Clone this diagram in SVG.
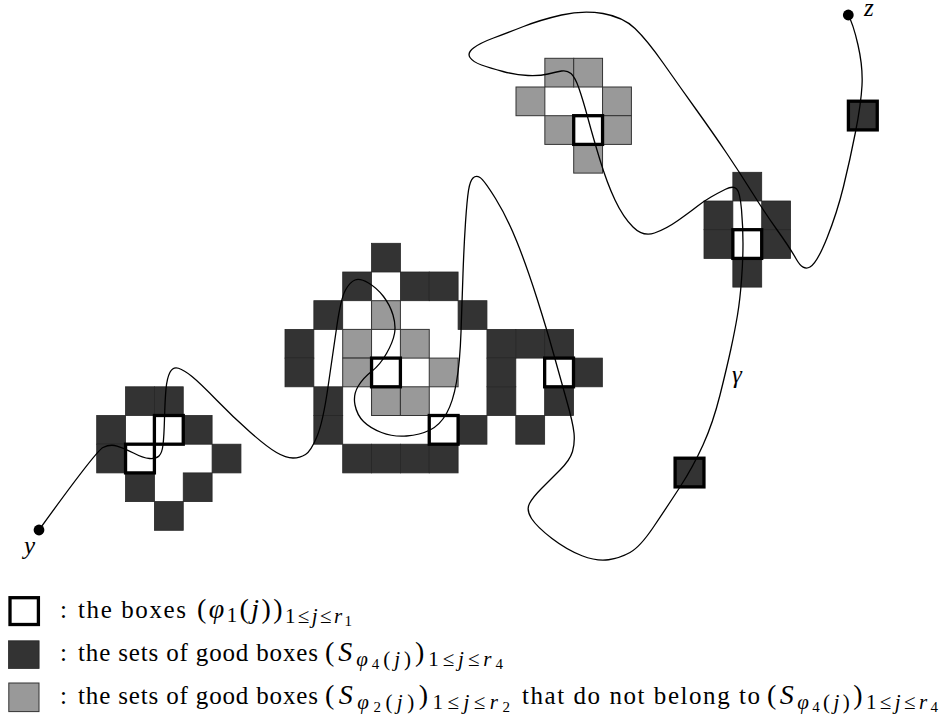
<svg xmlns="http://www.w3.org/2000/svg" width="944" height="718" viewBox="0 0 944 718">
<style>
.d{fill:#333;stroke:#262626;stroke-width:0.8}
.g{fill:#999;stroke:#333;stroke-width:1}
.t{fill:#fff;stroke:#000;stroke-width:3.3}
.b{fill:#333;stroke:#000;stroke-width:3.3}
.curve{fill:none;stroke:#000;stroke-width:1.3}
.txt{font-family:'Liberation Serif','Times New Roman','DejaVu Serif',serif;fill:#000}
.lg{font-size:25px}
.mt{font-size:28px}
.it{font-style:italic}
.sb{font-size:21px}
.ssb{font-size:15px}
.lab{font-size:25px;font-style:italic}
</style>
<rect width="944" height="718" fill="#fff"/>

<g id="cluster-top">
<rect class="g" x="544.85" y="58.3" width="28.85" height="28.7"/>
<rect class="g" x="573.7" y="58.3" width="28.85" height="28.7"/>
<rect class="g" x="516" y="87" width="28.85" height="28.7"/>
<rect class="g" x="602.55" y="87" width="28.85" height="28.7"/>
<rect class="g" x="544.85" y="115.7" width="28.85" height="28.7"/>
<rect class="g" x="602.55" y="115.7" width="28.85" height="28.7"/>
<rect class="g" x="573.7" y="144.4" width="28.85" height="28.7"/>
<rect class="t" x="573.7" y="115.7" width="28.85" height="28.7"/>
</g>

<g id="cluster-right">
<rect class="d" x="732.85" y="172.3" width="28.85" height="28.7"/>
<rect class="d" x="704" y="201" width="28.85" height="28.7"/>
<rect class="d" x="761.7" y="201" width="28.85" height="28.7"/>
<rect class="d" x="704" y="229.7" width="28.85" height="28.7"/>
<rect class="d" x="761.7" y="229.7" width="28.85" height="28.7"/>
<rect class="d" x="732.85" y="258.4" width="28.85" height="28.7"/>
<rect class="t" x="732.85" y="229.7" width="28.85" height="28.7"/>
</g>

<g id="cluster-left">
<rect class="d" x="125.55" y="386.8" width="28.85" height="28.7"/>
<rect class="d" x="154.4" y="386.8" width="28.85" height="28.7"/>
<rect class="d" x="96.7" y="415.5" width="28.85" height="28.7"/>
<rect class="d" x="183.25" y="415.5" width="28.85" height="28.7"/>
<rect class="d" x="96.7" y="444.2" width="28.85" height="28.7"/>
<rect class="d" x="212.1" y="444.2" width="28.85" height="28.7"/>
<rect class="d" x="125.55" y="472.9" width="28.85" height="28.7"/>
<rect class="d" x="183.25" y="472.9" width="28.85" height="28.7"/>
<rect class="d" x="154.4" y="501.6" width="28.85" height="28.7"/>
<rect class="t" x="154.4" y="415.5" width="28.85" height="28.7"/>
<rect class="t" x="125.55" y="444.2" width="28.85" height="28.7"/>
</g>

<g id="cluster-middle">
<rect class="d" x="371.55" y="243.3" width="28.85" height="28.7"/>
<rect class="d" x="342.7" y="272" width="28.85" height="28.7"/>
<rect class="d" x="400.4" y="272" width="28.85" height="28.7"/>
<rect class="d" x="429.25" y="272" width="28.85" height="28.7"/>
<rect class="d" x="313.85" y="300.7" width="28.85" height="28.7"/>
<rect class="g" x="371.55" y="300.7" width="28.85" height="28.7"/>
<rect class="d" x="458.1" y="300.7" width="28.85" height="28.7"/>
<rect class="d" x="285" y="329.4" width="28.85" height="28.7"/>
<rect class="g" x="342.7" y="329.4" width="28.85" height="28.7"/>
<rect class="g" x="400.4" y="329.4" width="28.85" height="28.7"/>
<rect class="d" x="486.95" y="329.4" width="28.85" height="28.7"/>
<rect class="d" x="515.8" y="329.4" width="28.85" height="28.7"/>
<rect class="d" x="544.65" y="329.4" width="28.85" height="28.7"/>
<rect class="d" x="285" y="358.1" width="28.85" height="28.7"/>
<rect class="g" x="342.7" y="358.1" width="28.85" height="28.7"/>
<rect class="g" x="429.25" y="358.1" width="28.85" height="28.7"/>
<rect class="d" x="486.95" y="358.1" width="28.85" height="28.7"/>
<rect class="d" x="573.5" y="358.1" width="28.85" height="28.7"/>
<rect class="d" x="313.85" y="386.8" width="28.85" height="28.7"/>
<rect class="g" x="371.55" y="386.8" width="28.85" height="28.7"/>
<rect class="g" x="400.4" y="386.8" width="28.85" height="28.7"/>
<rect class="d" x="486.95" y="386.8" width="28.85" height="28.7"/>
<rect class="d" x="544.65" y="386.8" width="28.85" height="28.7"/>
<rect class="d" x="313.85" y="415.5" width="28.85" height="28.7"/>
<rect class="d" x="458.1" y="415.5" width="28.85" height="28.7"/>
<rect class="d" x="515.8" y="415.5" width="28.85" height="28.7"/>
<rect class="d" x="342.7" y="444.2" width="28.85" height="28.7"/>
<rect class="d" x="371.55" y="444.2" width="28.85" height="28.7"/>
<rect class="d" x="400.4" y="444.2" width="28.85" height="28.7"/>
<rect class="d" x="429.25" y="444.2" width="28.85" height="28.7"/>
<rect class="t" x="371.55" y="358.1" width="28.85" height="28.7"/>
<rect class="t" x="544.65" y="358.1" width="28.85" height="28.7"/>
<rect class="t" x="429.25" y="415.5" width="28.85" height="28.7"/>
</g>

<g id="box-a"><rect class="b" x="848.4" y="101.2" width="28.85" height="28.7"/></g>
<g id="box-b"><rect class="b" x="675.1" y="458.2" width="28.85" height="28.7"/></g>

<g id="connectors">
<path class="curve" d="M39,530 Q96,451 103,447.5 Q110,444 117,446 Q124,448 133.5,453 Q143,458 149.5,458.5 Q156,459 159,456 Q162,453 163,445 Q164,437 164.5,418.5 Q165,400 166,389 Q167,378 170,372.25 Q173,366.5 178.5,368.25 Q184,370 192,376.5 Q200,383 216.5,400 Q233,417 250,432 Q267,447 276.5,452.5 Q286,458 293,458 Q300,458 305.5,454.5 Q311,451 317,436.5 Q323,422 328,387 Q333,352 337,325 Q341,298 345.5,290 Q350,282 355,280 Q360,278 368.5,283 Q377,288 383.5,296.5 Q390,305 393,315 Q396,325 394.5,333.5 Q393,342 386.5,353.5 Q380,365 371.5,371.5 Q363,378 358,386.5 Q353,395 355,405 Q357,415 363.5,421.5 Q370,428 381.5,432.5 Q393,437 406.5,436 Q420,435 430,430 Q440,425 446.5,413.5 Q453,402 456.5,382 Q460,362 461,332 Q462,302 463,273.5 Q464,245 465.5,222.5 Q467,200 468.5,190.5 Q470,181 473,178 Q476,175 480,177.5 Q484,180 495.5,198.5 Q507,217 517,242 Q527,267 537,298.5 Q547,330 553.5,353.5 Q560,377 566.5,400 Q573,423 574,433 Q575,443 572.5,451.5 Q570,460 560,470 Q550,480 541.5,488.5 Q533,497 529.5,503.5 Q526,510 531.5,518.5 Q537,527 552,538.5 Q567,550 582,555.75 Q597,561.5 608.5,559.75 Q620,558 630,552.5 Q640,547 653.5,527 Q667,507 680,487 Q693,467 703,445 Q713,423 720,395 Q727,367 731,348.5 Q735,330 737.5,315 Q740,300 741.5,280 Q743,260 743,243.5 Q743,227 741.5,209.5 Q740,192 736.5,188.75 Q733,185.5 725.5,189.25 Q718,193 711,197 Q704,201 697,206.5 Q690,212 678,220.5 Q666,229 654.5,233 Q643,237 633,227 Q623,217 615,200 Q607,183 600,160 Q593,137 588,118.5 Q583,100 579,88.5 Q575,77 571,73.5 Q567,70 561.5,71 Q556,72 548,74 Q540,76 528,75.5 Q516,75 503,71.5 Q490,68 481.5,65 Q473,62 470,57.5 Q467,53 473.5,48 Q480,43 493.5,38 Q507,33 523.5,26.5 Q540,20 561.5,15 Q583,10 603,13.5 Q623,17 635,28.5 Q647,40 663.5,63.5 Q680,87 696.5,110 Q713,133 726.5,153 Q740,173 752.5,193 Q765,213 777.5,230.5 Q790,248 796.5,259.5 Q803,271 810,267 Q817,263 827,238 Q837,213 843.5,186.5 Q850,160 855.5,132 Q861,104 862,85.5 Q863,67 858,45 Q853,23 848,15"/>
</g>

<g id="endpoint-y" class="txt" font-family="'Liberation Serif', 'DejaVu Serif', serif">
<circle cx="39" cy="530" r="5.4" fill="#000"/>
<text class="lab" x="24" y="554">y</text>
</g>
<g id="endpoint-z" class="txt" font-family="'Liberation Serif', 'DejaVu Serif', serif">
<circle cx="848.3" cy="15" r="5.4" fill="#000"/>
<text class="lab" x="864" y="16">z</text>
</g>
<g id="label-gamma" class="txt" font-family="'Liberation Serif', 'DejaVu Serif', serif">
<text class="lab" x="732" y="383">γ</text>
</g>

<g id="legend" class="txt" font-family="'Liberation Serif', 'DejaVu Serif', serif">
<rect class="t" x="10" y="597.7" width="28.4" height="26.8"/>
<rect class="d" x="8.5" y="640.8" width="30.6" height="27.6"/>
<rect class="g" x="8.8" y="683" width="30.2" height="28.6"/>
<text class="lg" x="60" y="617.5">:</text>
<text class="lg" x="78" y="617.5" textLength="108" lengthAdjust="spacing">the boxes</text>
<text class="mt" x="197" y="617.5" textLength="155" lengthAdjust="spacing">(<tspan class="it">φ</tspan><tspan class="sb" dy="4">1</tspan><tspan dy="-4">(</tspan><tspan class="it">j</tspan>))<tspan class="sb" dy="5">1≤</tspan><tspan class="sb it">j</tspan><tspan class="sb">≤</tspan><tspan class="sb it">r</tspan><tspan class="ssb" dy="3">1</tspan></text>
<text class="lg" x="60" y="661">:</text>
<text class="lg" x="78" y="661" textLength="240" lengthAdjust="spacing">the sets of good boxes</text>
<text class="mt" x="325" y="661" textLength="178" lengthAdjust="spacing">(<tspan class="it">S</tspan><tspan class="sb it" dy="5">φ</tspan><tspan class="ssb" dy="3">4</tspan><tspan class="sb" dy="-3">(</tspan><tspan class="sb it">j</tspan><tspan class="sb">)</tspan><tspan dy="-5">)</tspan><tspan class="sb" dy="5">1≤</tspan><tspan class="sb it">j</tspan><tspan class="sb">≤</tspan><tspan class="sb it">r</tspan><tspan class="ssb" dy="3">4</tspan></text>
<text class="lg" x="60" y="704">:</text>
<text class="lg" x="78" y="704" textLength="240" lengthAdjust="spacing">the sets of good boxes</text>
<text class="mt" x="325" y="704" textLength="185" lengthAdjust="spacing">(<tspan class="it">S</tspan><tspan class="sb it" dy="5">φ</tspan><tspan class="ssb" dy="3">2</tspan><tspan class="sb" dy="-3">(</tspan><tspan class="sb it">j</tspan><tspan class="sb">)</tspan><tspan dy="-5">)</tspan><tspan class="sb" dy="5">1≤</tspan><tspan class="sb it">j</tspan><tspan class="sb">≤</tspan><tspan class="sb it">r</tspan><tspan class="ssb" dy="3">2</tspan></text>
<text class="lg" x="522" y="704" textLength="238" lengthAdjust="spacing">that do not belong to</text>
<text class="mt" x="767" y="704" textLength="171" lengthAdjust="spacing">(<tspan class="it">S</tspan><tspan class="sb it" dy="5">φ</tspan><tspan class="ssb" dy="3">4</tspan><tspan class="sb" dy="-3">(</tspan><tspan class="sb it">j</tspan><tspan class="sb">)</tspan><tspan dy="-5">)</tspan><tspan class="sb" dy="5">1≤</tspan><tspan class="sb it">j</tspan><tspan class="sb">≤</tspan><tspan class="sb it">r</tspan><tspan class="ssb" dy="3">4</tspan></text>
</g>
</svg>
